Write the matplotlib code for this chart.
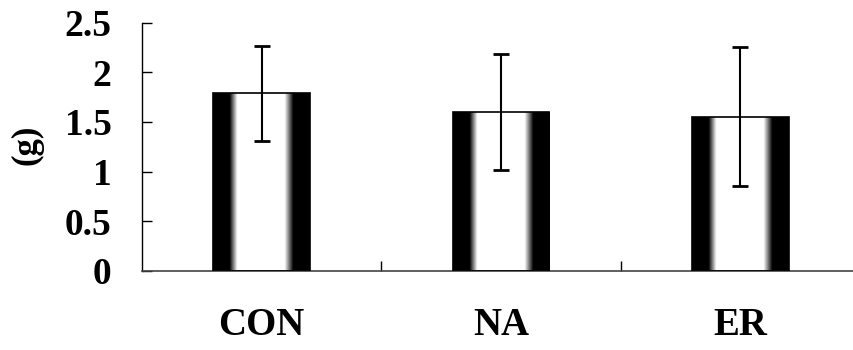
import matplotlib
matplotlib.use("Agg")
import matplotlib.pyplot as plt
import numpy as np

# values
groups = ["CON", "NA", "ER"]
means = [1.79, 1.60, 1.55]
errors = [0.48, 0.58, 0.70]
yticks = [0, 0.5, 1, 1.5, 2, 2.5]
ytick_labels = ["0", "0.5", "1", "1.5", "2", "2.5"]

plt.rcParams["font.family"] = ["Liberation Serif", "DejaVu Serif"]
plt.rcParams["font.weight"] = "bold"

fig = plt.figure(figsize=(8.54, 3.5), dpi=100)
ax = fig.add_axes([142 / 854, 1 - 270.7 / 350, 718 / 854, 248 / 350])

x = np.arange(len(groups))
width = 0.405

# horizontal shading profile for the cylinder-like bars (0 = black, 1 = white)
t = np.linspace(0, 1, 200)
shade = np.clip(np.minimum((t - 0.17) / 0.08, (0.83 - t) / 0.09), 0, 1)
shade_img = np.tile(shade, (2, 1))

bars = ax.bar(x, means, width, color="none", edgecolor="black", linewidth=1.2, zorder=3)
for b in bars:
    x0, y0 = b.get_x(), b.get_y()
    im = ax.imshow(shade_img, cmap="gray", vmin=0, vmax=1, aspect="auto",
                   extent=[x0, x0 + b.get_width(), y0, y0 + b.get_height()],
                   interpolation="bilinear", zorder=2)
    im.set_clip_path(b)

ax.errorbar(x, means, yerr=errors, fmt="none", ecolor="black", elinewidth=1.5,
            capsize=6, capthick=2, zorder=4)

ax.set_xlim(-0.5, 2.5)
ax.set_ylim(0, 2.5)
ax.set_yticks(yticks)
ax.set_yticklabels(ytick_labels, fontsize=27, fontweight="bold")
ax.set_xticks(x)
ax.set_xticklabels(groups, fontsize=28, fontweight="bold")
ax.set_xticks([0.5, 1.5], minor=True)
ax.tick_params(axis="x", which="major", length=0, pad=26)
ax.tick_params(axis="x", which="minor", direction="in", length=7, width=1)
ax.tick_params(axis="y", direction="in", length=7.5, width=1, pad=22)

for side in ("top", "right"):
    ax.spines[side].set_visible(False)
ax.spines["left"].set_linewidth(1)
ax.spines["bottom"].set_linewidth(1.2)
ax.spines["bottom"].set_color("#444444")

fig.text(27 / 854, 1 - 145 / 350, "(g)", rotation=90, fontsize=25, fontweight="bold",
         ha="center", va="center")

fig.savefig("out.png", dpi=100)
